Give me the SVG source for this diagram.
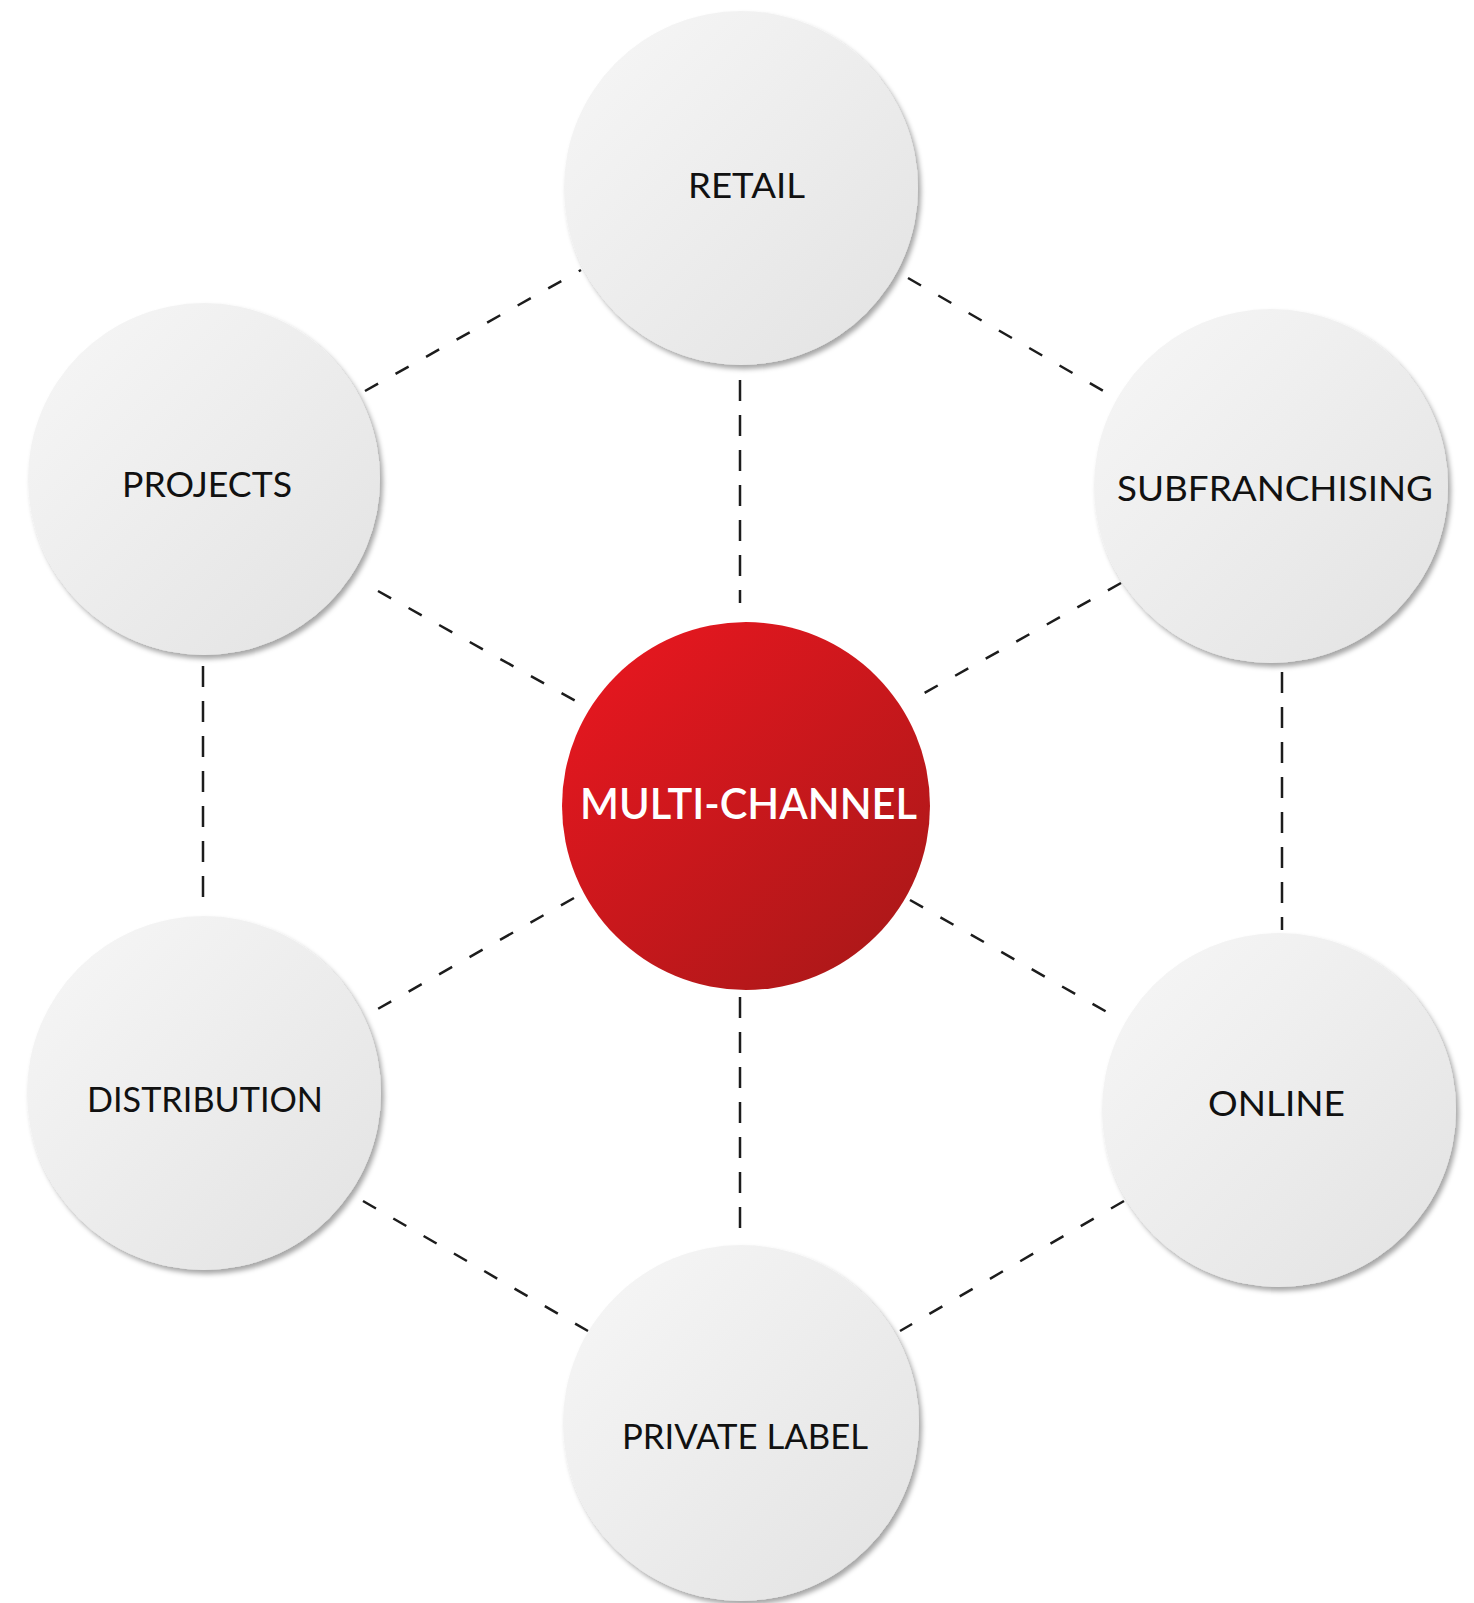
<svg xmlns="http://www.w3.org/2000/svg" width="1474" height="1603" viewBox="0 0 1474 1603">
<defs>
<linearGradient id="gGrey" x1="0" y1="0" x2="1" y2="1">
<stop offset="0" stop-color="#f7f7f7"/>
<stop offset="1" stop-color="#e2e2e2"/>
</linearGradient>
<linearGradient id="gRed" x1="0.15" y1="0.1" x2="0.85" y2="0.9">
<stop offset="0" stop-color="#e4171f"/>
<stop offset="1" stop-color="#ae1819"/>
</linearGradient>
<filter id="sh" x="-10%" y="-10%" width="125%" height="125%">
<feDropShadow dx="3" dy="4" stdDeviation="2.5" flood-color="#000" flood-opacity="0.35"/>
</filter>
</defs>
<style>
.node{fill:url(#gGrey);filter:url(#sh)}
.lbl{font-family:Lato,"Liberation Sans",sans-serif;font-size:35px;fill:#111}
.hub{font-family:Lato,"Liberation Sans",sans-serif;font-size:43px;font-weight:600;fill:#fff}
.c{stroke:#1c1c1c;stroke-width:2.5;fill:none}
.v{stroke-dasharray:21 14}
.d{stroke-dasharray:15 20}
</style>
<rect width="1474" height="1603" fill="#fff"/>
<g id="connectors">
<line class="c v" x1="740" y1="380" x2="740" y2="603"/>
<line class="c v" x1="740" y1="997" x2="740" y2="1242"/>
<line class="c v" x1="203" y1="666" x2="203" y2="900"/>
<line class="c v" x1="1282" y1="672" x2="1282" y2="930"/>
<line class="c d" x1="365" y1="391" x2="581" y2="270"/>
<line class="c d" x1="908" y1="278" x2="1114" y2="397"/>
<line class="c d" x1="378" y1="591" x2="583" y2="705"/>
<line class="c d" x1="1121" y1="583" x2="910" y2="701"/>
<line class="c d" x1="574" y1="898" x2="376" y2="1010"/>
<line class="c d" x1="910" y1="900" x2="1121" y2="1020"/>
<line class="c d" x1="363" y1="1201" x2="588" y2="1331"/>
<line class="c d" x1="1124" y1="1201" x2="900" y2="1331"/>
</g>
<g id="retail">
<circle class="node" cx="741" cy="188" r="177"/>
<text class="lbl" x="688" y="198" textLength="117" lengthAdjust="spacingAndGlyphs">RETAIL</text>
</g>
<g id="projects">
<circle class="node" cx="204" cy="479" r="176"/>
<text class="lbl" x="122" y="497" textLength="170" lengthAdjust="spacingAndGlyphs">PROJECTS</text>
</g>
<g id="subfranchising">
<circle class="node" cx="1271" cy="486" r="177"/>
<text class="lbl" x="1117" y="501" textLength="316" lengthAdjust="spacingAndGlyphs">SUBFRANCHISING</text>
</g>
<g id="distribution">
<circle class="node" cx="204" cy="1093" r="177"/>
<text class="lbl" x="87" y="1112" textLength="236" lengthAdjust="spacingAndGlyphs">DISTRIBUTION</text>
</g>
<g id="online">
<circle class="node" cx="1279" cy="1110" r="177"/>
<text class="lbl" x="1208" y="1116" textLength="137" lengthAdjust="spacingAndGlyphs">ONLINE</text>
</g>
<g id="private-label">
<circle class="node" cx="741" cy="1423" r="178"/>
<text class="lbl" x="622" y="1449" textLength="246" lengthAdjust="spacingAndGlyphs">PRIVATE LABEL</text>
</g>
<g id="multi-channel">
<circle cx="746" cy="806" r="184" fill="url(#gRed)"/>
<text class="hub" x="580" y="819" textLength="337" lengthAdjust="spacingAndGlyphs">MULTI-CHANNEL</text>
</g>
</svg>
